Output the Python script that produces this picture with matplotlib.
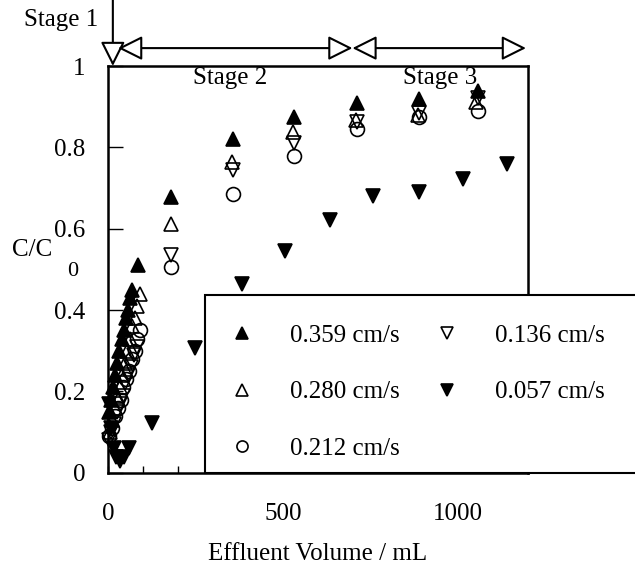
import numpy as np
import matplotlib
matplotlib.use("Agg")
import matplotlib.pyplot as plt
from matplotlib.ticker import MultipleLocator
from matplotlib.patches import Rectangle

plt.rcParams['font.family'] = ['Liberation Serif', 'DejaVu Serif']
plt.rcParams['font.size'] = 18

### breakthrough data (effluent volume in mL, C/C0)
vol_359 = [3, 9, 15, 21, 27, 33, 39, 45, 51, 57, 63, 70, 86,
           180, 358, 533, 711, 888, 1057]
cc_359 = [0.15, 0.18, 0.21, 0.24, 0.27, 0.30, 0.33, 0.35, 0.38, 0.40, 0.43, 0.45, 0.51,
          0.678, 0.821, 0.875, 0.909, 0.919, 0.939]

vol_280 = [6, 13, 20, 27, 34, 41, 48, 55, 62, 69, 76, 84, 92,
           180, 355, 530, 708, 885, 1052]
cc_280 = [0.10, 0.13, 0.16, 0.19, 0.21, 0.24, 0.27, 0.30, 0.33, 0.36, 0.38, 0.41, 0.44,
          0.612, 0.764, 0.838, 0.867, 0.880, 0.912]

vol_212 = [4, 12, 20, 28, 36, 44, 52, 60, 68, 76, 84, 92,
           180, 358, 533, 711, 888, 1057]
cc_212 = [0.09, 0.11, 0.14, 0.16, 0.18, 0.21, 0.23, 0.25, 0.28, 0.30, 0.33, 0.35,
          0.506, 0.686, 0.779, 0.845, 0.875, 0.889]

vol_136 = [2, 10, 18, 26, 34, 42, 50, 58, 66, 74, 82,
           180, 358, 533, 711, 888, 1057]
cc_136 = [0.08, 0.10, 0.12, 0.15, 0.17, 0.19, 0.22, 0.24, 0.26, 0.29, 0.31,
          0.536, 0.744, 0.811, 0.862, 0.885, 0.921]

vol_057 = [2, 8, 16, 24, 34, 46, 60, 126, 249, 384, 507, 636, 759, 888, 1014, 1140]
cc_057 = [0.17, 0.11, 0.06, 0.04, 0.03, 0.04, 0.06, 0.123, 0.307, 0.464, 0.545,
          0.622, 0.681, 0.690, 0.722, 0.759]

series = [
    (vol_359, cc_359, '^', 'black', '0.359 cm/s'),
    (vol_280, cc_280, '^', 'none', '0.280 cm/s'),
    (vol_212, cc_212, 'o', 'none', '0.212 cm/s'),
    (vol_136, cc_136, 'v', 'none', '0.136 cm/s'),
    (vol_057, cc_057, 'v', 'black', '0.057 cm/s'),
]

### stage boundaries (mL)
stage1_end = 14
stage2_start = 29
stage2_end = 699
stage3_end = 1195

fig = plt.figure(figsize=(6.35, 5.69), dpi=100)
ax = fig.add_axes([0.170, 0.169, 0.661, 0.715])

for vol, cc, mk, fc, lab in series:
    ax.plot(vol, cc, linestyle='none', marker=mk, markersize=10,
            markerfacecolor=fc, markeredgecolor='black', markeredgewidth=1.2,
            label=lab, clip_on=False)

ax.set_xlim(0, 1200)
ax.set_ylim(0, 1)
ax.set_xticks([0, 500, 1000])
ax.xaxis.set_minor_locator(MultipleLocator(100))
ax.set_yticks([0, 0.2, 0.4, 0.6, 0.8, 1.0])
ax.set_yticklabels(['0', '0.2', '0.4', '0.6', '0.8', '1'])
ax.tick_params(axis='y', direction='in', length=11, width=1, pad=16, labelsize=18)
ax.tick_params(axis='x', which='major', direction='in', length=5, width=1, pad=22, labelsize=18)
ax.tick_params(axis='x', which='minor', direction='in', length=5, width=1)
for sp in ax.spines.values():
    sp.set_linewidth(1.8)

ax.set_xlabel('Effluent Volume / mL', fontsize=18)
ax.xaxis.set_label_coords(0.5, -0.172)
ax.xaxis.label.set_va('top')
ax.text(-0.229, 0.548, 'C/C', transform=ax.transAxes, ha='left', va='center', fontsize=18)
ax.text(-0.098, 0.496, '0', transform=ax.transAxes, ha='left', va='center', fontsize=16)

### stage arrows above the plot
arrow_y = 1.044
head = dict(mutation_scale=15, lw=1.5, fc='white', ec='black', shrinkA=0, shrinkB=0)
ax.annotate('', xy=(stage1_end, 1.0), xytext=(stage1_end, 1.165),
            arrowprops=dict(arrowstyle='-|>,head_length=1.0,head_width=0.5', **head),
            annotation_clip=False)
ax.annotate('', xy=(stage2_start, arrow_y), xytext=(stage2_end, arrow_y),
            arrowprops=dict(arrowstyle='<|-|>,head_length=1.0,head_width=0.5', **head),
            annotation_clip=False)
ax.annotate('', xy=(stage2_end, arrow_y), xytext=(stage3_end, arrow_y),
            arrowprops=dict(arrowstyle='<|-|>,head_length=1.0,head_width=0.5', **head),
            annotation_clip=False)
ax.text(-29, 1.113, 'Stage 1', ha='right', va='center', fontsize=18)
ax.text(350, 0.971, 'Stage 2', ha='center', va='center', fontsize=18)
ax.text(951, 0.971, 'Stage 3', ha='center', va='center', fontsize=18)

### legend box: white panel that runs past the right spine
box = Rectangle((0.231, 0.0), 1.1, 0.437, transform=ax.transAxes,
                facecolor='white', edgecolor='black', linewidth=1.5,
                clip_on=False, zorder=4.5)
ax.add_patch(box)
leg = ax.legend(loc='upper left', bbox_to_anchor=(0.231, 0.427), ncol=2,
                fontsize=18, frameon=False, borderaxespad=0, borderpad=1.0,
                labelspacing=1.37, handlelength=1.0, handletextpad=1.4,
                columnspacing=1.4, markerscale=0.8)
leg.set_zorder(5)

fig.savefig('out.png', dpi=100)
